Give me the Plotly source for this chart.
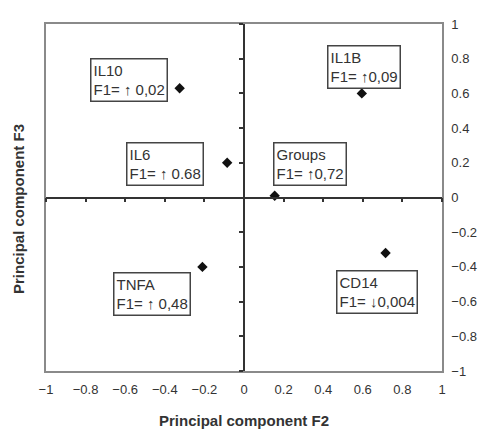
import plotly.graph_objects as go

# ---- data ----
names = ["IL10", "IL1B", "IL6", "Groups", "TNFA", "CD14"]
f2 = [-0.325, 0.595, -0.085, 0.155, -0.21, 0.715]
f3 = [0.63, 0.60, 0.20, 0.01, -0.40, -0.32]
f1_values = ["0,02", "0,09", "0.68", "0,72", "0,48", "0,004"]
f1_direction = ["↑ ", "↑", "↑ ", "↑", "↑ ", "↓"]

tick_vals = [-1, -0.8, -0.6, -0.4, -0.2, 0, 0.2, 0.4, 0.6, 0.8, 1]
x_tick_text = ["−1", "−0.8", "−0.6", "−0.4", "−0.2", "0", "0.2", "0.4", "0.6", "0.8", "1"]
y_tick_text = ["−1", "−0.8", "−0.6", "−0.4", "−0.2", "0", "0.2", "0.4", "0.6", "0.8", "1"]

x_title = "Principal component F2"
y_title = "Principal component F3"

# label box offsets (pixels, relative to the point) - styling
label_shift_x = [-51, 2, -62, 35, -50, -9]
label_shift_y = [8, 26, -1, 32, -27, -39]

FONT = "Liberation Sans, Arial, sans-serif"
DARK = "#333333"

fig = go.Figure()
fig.add_trace(go.Scatter(
    x=f2, y=f3, mode="markers",
    marker=dict(symbol="diamond", size=8, color="#111111"),
    hoverinfo="text", text=names, showlegend=False,
))
# dummy trace so the crossing zero-axes are drawn
fig.add_trace(go.Scatter(
    x=[0], y=[0], xaxis="x2", yaxis="y2", mode="markers",
    marker=dict(opacity=0), hoverinfo="skip", showlegend=False,
))

for n, x, y, v, d, sx, sy in zip(names, f2, f3, f1_values, f1_direction,
                                  label_shift_x, label_shift_y):
    fig.add_annotation(
        x=x, y=y, xref="x", yref="y", showarrow=False,
        xshift=sx, yshift=sy,
        text=f"{n}<br>F1= {d}{v}", align="left",
        font=dict(family=FONT, size=15, color=DARK),
        bordercolor="#444444", borderwidth=1.5, borderpad=2,
        bgcolor="white",
    )

fig.add_annotation(
    x=0, xref="paper", xanchor="right", xshift=-17,
    y=0.5, yref="paper", yanchor="middle", yshift=-12,
    text=f"<b>{y_title}</b>", textangle=-90, showarrow=False,
    font=dict(family=FONT, size=15, color=DARK),
)
fig.add_annotation(
    x=0.5, xref="paper", xanchor="center",
    y=0, yref="paper", yanchor="middle", yshift=-49,
    text=f"<b>{x_title}</b>", showarrow=False,
    font=dict(family=FONT, size=15, color=DARK),
)

axis_common = dict(range=[-1, 1], showgrid=False, zeroline=False,
                   fixedrange=True)

# the page body has an 8px default margin, so the figure is sized to fit
fig.update_layout(
    width=478, height=424,
    margin=dict(l=38, r=40, t=9, b=61),
    paper_bgcolor="white", plot_bgcolor="white",
    font=dict(family=FONT, color=DARK),
    xaxis=dict(**axis_common, side="bottom", showline=True, mirror=True,
               linecolor="#8a8a8a", linewidth=1.5, ticks="",
               tickvals=tick_vals, ticktext=x_tick_text,
               tickfont=dict(family=FONT, size=13, color=DARK),
               ticklabelstandoff=6),
    yaxis=dict(**axis_common, side="right", showline=True, mirror=True,
               linecolor="#8a8a8a", linewidth=1.5, ticks="",
               tickvals=tick_vals, ticktext=y_tick_text,
               tickfont=dict(family=FONT, size=13, color=DARK),
               ticklabelstandoff=5),
    xaxis2=dict(**axis_common, overlaying="x", anchor="free", position=0.5,
                side="bottom", showline=True, linecolor="#333333",
                linewidth=1.5, ticks="outside", ticklen=4, tickwidth=1.5,
                tickcolor="#333333", tickvals=tick_vals,
                showticklabels=False),
    yaxis2=dict(**axis_common, overlaying="y", anchor="free", position=0.5,
                side="left", showline=True, linecolor="#333333",
                linewidth=1.5, ticks="outside", ticklen=4, tickwidth=1.5,
                tickcolor="#333333", tickvals=tick_vals,
                showticklabels=False),
)

fig.write_html("out.html")
